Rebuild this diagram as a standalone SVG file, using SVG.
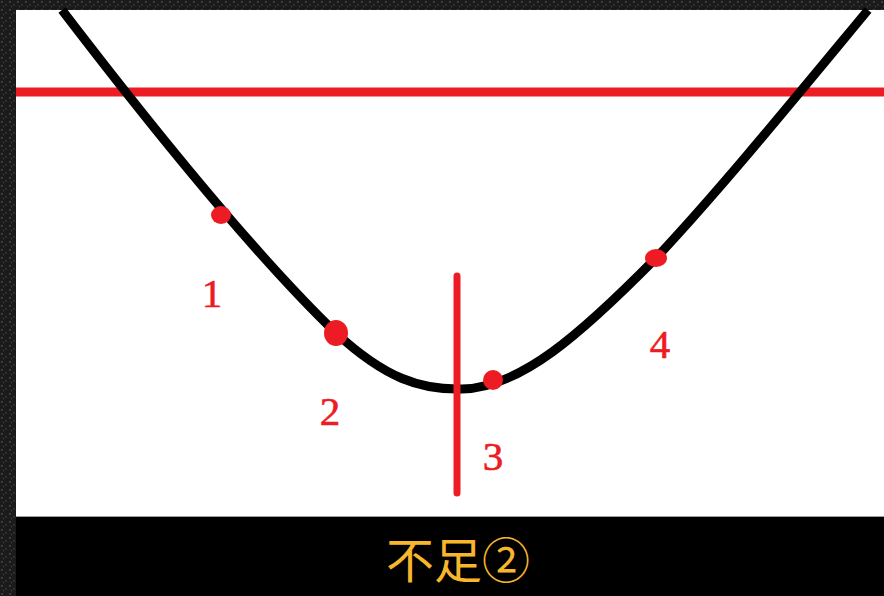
<svg xmlns="http://www.w3.org/2000/svg" width="884" height="596" viewBox="0 0 884 596">
<defs>
<pattern id="noise" width="8" height="8" patternUnits="userSpaceOnUse">
<rect width="8" height="8" fill="#1b1b1b"/>
<rect x="1" y="1" width="2" height="2" fill="#3a3a3a"/>
<rect x="5" y="4" width="2" height="2" fill="#2e2e2e"/>
<rect x="3" y="6" width="1" height="1" fill="#4a4a4a"/>
</pattern>
<style>
.red{fill:#ed1c24}
.lbl{font-family:"Liberation Serif",serif;font-size:41px;fill:#ed1c24;text-anchor:middle;stroke:#ed1c24;stroke-width:0.6}
</style>
</defs>
<rect width="884" height="596" fill="url(#noise)"/>
<rect x="16" y="10" width="868" height="506" fill="#ffffff"/>
<line x1="16" y1="516.5" x2="884" y2="516.5" stroke="#a0a0a0" stroke-width="1"/>
<rect x="16" y="517" width="868" height="79" fill="#000000"/>
<g id="axis">
<line x1="16" y1="92" x2="884" y2="92" stroke="#ed1c24" stroke-width="9"/>
</g>
<g id="curve">
<path d="M62,10 C150,125 250,250 336,333 C385,378 420,390 462,389 C520,388 580,335 656,258 C720,190 800,92 868,10" fill="none" stroke="#000" stroke-width="9"/>
</g>
<g id="divider">
<line x1="457" y1="276" x2="457" y2="493" stroke="#ed1c24" stroke-width="7" stroke-linecap="round"/>
</g>
<g id="points">
<ellipse class="red" cx="221" cy="215" rx="10" ry="9"/>
<ellipse class="red" cx="336" cy="333" rx="12" ry="13"/>
<ellipse class="red" cx="493" cy="380" rx="10" ry="10"/>
<ellipse class="red" cx="656" cy="258" rx="11" ry="9"/>
</g>
<g id="labels">
<text class="lbl" x="212" y="307">1</text>
<text class="lbl" x="330" y="425">2</text>
<text class="lbl" x="493" y="470">3</text>
<text class="lbl" x="660" y="358">4</text>
</g>
<g id="caption">
<text x="458" y="578" font-family="'Noto Sans CJK SC','Noto Sans CJK JP',sans-serif" font-size="48" fill="#f8b62d" text-anchor="middle">不足②</text>
</g>
</svg>
